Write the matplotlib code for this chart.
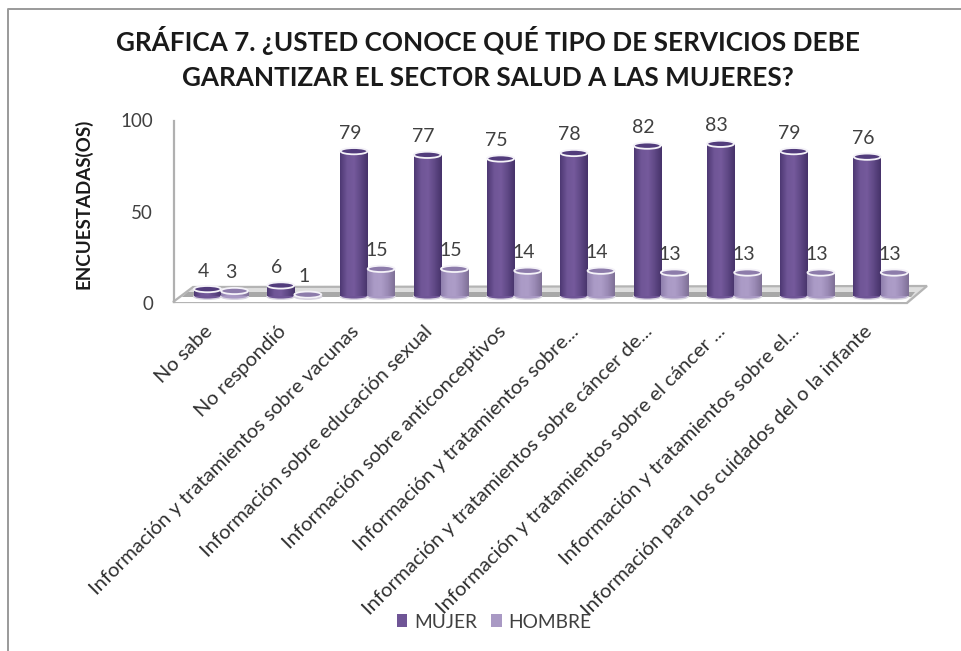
import matplotlib
matplotlib.use("Agg")
import matplotlib.pyplot as plt
import numpy as np
from matplotlib.colors import LinearSegmentedColormap
from matplotlib.lines import Line2D
from matplotlib.patches import Ellipse, Polygon
from matplotlib.transforms import Affine2D, ScaledTranslation

plt.rcParams["font.family"] = ["Lato", "DejaVu Sans"]

categories = [
    "No sabe",
    "No respondió",
    "Información y tratamientos sobre vacunas",
    "Información sobre educación sexual",
    "Información sobre anticonceptivos",
    "Información y tratamientos sobre...",
    "Información y tratamientos sobre cáncer de...",
    "Información y tratamientos sobre el cáncer ...",
    "Información y tratamientos sobre el...",
    "Información para los cuidados del o la infante",
]
mujer = [4, 6, 79, 77, 75, 78, 82, 83, 79, 76]
hombre = [3, 1, 15, 15, 14, 14, 13, 13, 13, 13]
yticks = [0, 50, 100]

W, H = 961, 651
fig = plt.figure(figsize=(W / 100, H / 100), dpi=100)
ax = fig.add_axes([174 / W, 1 - 302 / H, (928 - 174) / W, (302 - 112) / H])
# image pixels, y going down
px = Affine2D().scale(1, -1).translate(0, H)

cm_mujer = LinearSegmentedColormap.from_list("m", ["#4d3873", "#6f5596", "#755a9c", "#5f4885", "#46336a"])
cm_hombre = LinearSegmentedColormap.from_list("h", ["#8f7fad", "#ab9bc6", "#ad9dc8", "#9a8ab5", "#7f7096"])
grad = np.linspace(0, 1, 64).reshape(1, -1)

# floor of the 3d plot
ax.add_patch(Polygon([(173, 302), (193, 287), (927, 286), (907, 303)], closed=True, transform=px,
                     fc="#dedede", ec="#b4b4b4", lw=1.6, clip_on=False, zorder=1))
ax.add_patch(Polygon([(175, 302), (182, 297), (911, 297), (906, 302)], closed=True, transform=px,
                     fc="white", ec="none", clip_on=False, zorder=1.1))
ax.add_patch(Polygon([(182, 297), (188, 292), (915, 292), (911, 297)], closed=True, transform=px,
                     fc="#a8a8a8", ec="none", clip_on=False, zorder=1.1))

x = np.arange(len(categories))
w = 0.375
z = 2


def cylinder(xc, v, cmap, mid, top, label=None):
    global z
    ax.add_patch(Ellipse((xc, 0), w, 3.0, fc=mid, ec="#d8d4e0", lw=1, zorder=z))
    b = ax.bar(xc, v, w, color=mid, edgecolor="none", zorder=z + 0.1, label=label)[0]
    im = ax.imshow(grad, cmap=cmap, aspect="auto", extent=(xc - w / 2, xc + w / 2, 0, v), zorder=z + 0.2)
    im.set_clip_path(b)
    ax.add_patch(Ellipse((xc, v), w * 0.98, 3.4, fc=top, ec="#f4f2f8", lw=1.3, zorder=z + 0.3))
    ax.annotate(str(v), (xc, v), xytext=(-3, 13), textcoords="offset points",
                ha="center", va="center", fontsize=14, color="#404040", zorder=20)
    z += 1


for i in x:
    cylinder(i, mujer[i], cm_mujer, "#6f5596", "#523c7c", "MUJER" if i == 0 else None)
    cylinder(i + 0.37, hombre[i], cm_hombre, "#a999c4", "#8d7cab", "HOMBRE" if i == 0 else None)

ax.set_xlim(-0.456, 9.83)
ax.set_ylim(-3, 100.3)
ax.patch.set_alpha(0)
for s in ["top", "right", "bottom"]:
    ax.spines[s].set_visible(False)
ax.spines["left"].set_color("#b0b0b0")
ax.spines["left"].set_linewidth(1.6)
ax.spines["left"].set_bounds(-3, 95.5)

ax.set_yticks(yticks)
ax.tick_params(axis="y", length=0, pad=15, labelsize=13.5, labelcolor="#404040")
shift = ScaledTranslation(0, -7 / 100, fig.dpi_scale_trans)
for lab in ax.get_yticklabels():
    lab.set_transform(lab.get_transform() + shift)

ax.set_xticks(x - 0.05)
ax.set_xticklabels(categories, rotation=45, ha="right", va="top", rotation_mode="anchor",
                   fontsize=14.6, color="#303030")
ax.tick_params(axis="x", length=0, pad=15)

fig.text(83 / W, 1 - 204 / H, "ENCUESTADAS(OS)", rotation=90, ha="center", va="center",
         fontsize=13.5, fontweight="bold", color="#1a1a1a")
fig.text(488 / W, 1 - 58 / H, "GRÁFICA 7. ¿USTED CONOCE QUÉ TIPO DE SERVICIOS DEBE\nGARANTIZAR EL SECTOR SALUD A LAS MUJERES?",
         ha="center", va="center", fontsize=18.8, fontweight="bold", color="#1a1a1a", linespacing=1.58)

# chart frame: top and left only, the rest is cut off
fig.add_artist(Line2D([8, 8, 961], [651, 9, 9], transform=px, color="#9a9a9a", lw=1.4))

leg = fig.legend(loc="center", bbox_to_anchor=(494 / W, 1 - 622 / H), ncol=2, frameon=False, fontsize=13.8,
                 labelcolor="#404040", handlelength=0.55, handleheight=0.65, handletextpad=0.35, columnspacing=0.75,
                 borderpad=0, borderaxespad=0)

fig.savefig("out.png", dpi=100)
